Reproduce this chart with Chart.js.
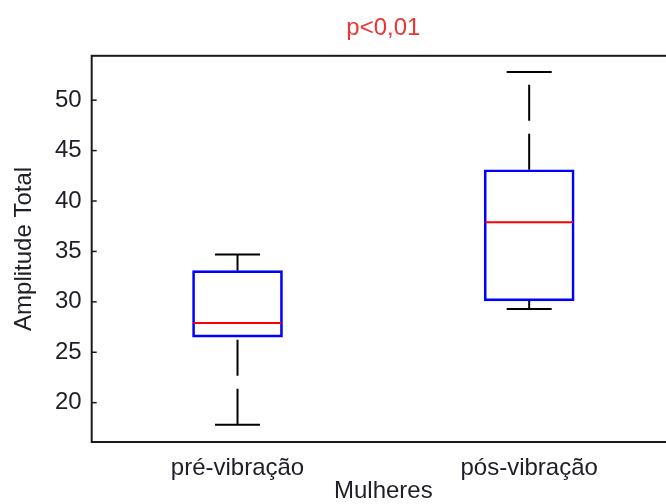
<!DOCTYPE html>
<html>
<head>
<meta charset="utf-8">
<script src="https://cdn.jsdelivr.net/npm/chart.js@4.4.1/dist/chart.umd.min.js"></script>
<style>
  html, body { margin: 0; padding: 0; background: #fff; overflow: hidden; }
  #wrap { width: 680px; height: 504px; }
</style>
</head>
<body>
<div id="wrap"><canvas id="chart_id" width="680" height="504"></canvas></div>
<script>
// data
const categories = ['pré-vibração', 'pós-vibração'];
const whiskerLow = [17.8, 29.3];
const q1 = [26.5, 30.1];
const median = [27.9, 37.9];
const q3 = [33.1, 43.1];
const whiskerHigh = [34.7, 52.8];
const yTicks = [20, 25, 30, 35, 40, 45, 50];

const textColor = '#1e1e28';
const fontFamily = '"Liberation Sans", Arial, sans-serif';

// whiskers, caps, medians and the frame, drawn through the chart scales
const boxExtras = {
    id: 'boxExtras',
    afterDatasetsDraw(chart) {
        const ctx = chart.ctx;
        const area = chart.chartArea;
        const x = chart.scales.x;
        const y = chart.scales.y;
        const meta = chart.getDatasetMeta(0);
        ctx.save();
        categories.forEach(function (c, i) {
            const cx = x.getPixelForValue(i);
            const half = meta.data[i].width / 2;
            const capHalf = half / 2;

            ctx.strokeStyle = '#000';
            ctx.lineWidth = 2;
            ctx.setLineDash([36, 13]);
            ctx.beginPath();
            ctx.moveTo(cx, y.getPixelForValue(whiskerLow[i]));
            ctx.lineTo(cx, y.getPixelForValue(q1[i]));
            ctx.stroke();
            ctx.beginPath();
            ctx.moveTo(cx, y.getPixelForValue(q3[i]));
            ctx.lineTo(cx, y.getPixelForValue(whiskerHigh[i]));
            ctx.stroke();
            ctx.setLineDash([]);

            [whiskerLow[i], whiskerHigh[i]].forEach(function (v) {
                const py = y.getPixelForValue(v);
                ctx.beginPath();
                ctx.moveTo(cx - capHalf, py);
                ctx.lineTo(cx + capHalf, py);
                ctx.stroke();
            });

            ctx.strokeStyle = '#ff0000';
            const my = y.getPixelForValue(median[i]);
            ctx.beginPath();
            ctx.moveTo(cx - half + 1, my);
            ctx.lineTo(cx + half - 1, my);
            ctx.stroke();
        });

        ctx.strokeStyle = '#1a1a1a';
        ctx.lineWidth = 2;
        ctx.strokeRect(area.left, area.top, area.right - area.left, area.bottom - area.top);

        // small inward ticks on the y axis
        ctx.lineWidth = 1.5;
        yTicks.forEach(function (v) {
            const py = y.getPixelForValue(v);
            ctx.beginPath();
            ctx.moveTo(area.left, py);
            ctx.lineTo(area.left + 5, py);
            ctx.stroke();
        });
        ctx.restore();
    }
};

new Chart(document.getElementById('chart_id'), {
    type: 'bar',
    data: {
        labels: categories,
        datasets: [
            {
                label: 'Amplitude Total',
                data: categories.map((c, i) => [q1[i], q3[i]]),
                backgroundColor: 'rgba(0,0,0,0)',
                borderColor: '#0000ff',
                borderWidth: 2,
                borderSkipped: false,
                barThickness: 90
            }
        ]
    },
    options: {
        responsive: false,
        animation: false,
        layout: { padding: { left: 0, right: 5, top: 0, bottom: 0 } },
        plugins: {
            legend: { display: false },
            tooltip: { enabled: false },
            title: { display: false }
        },
        scales: {
            x: {
                position: 'bottom',
                offset: true,
                grid: { display: false, drawTicks: false },
                border: { display: false },
                ticks: {
                    color: textColor,
                    padding: 14,
                    maxRotation: 0,
                    font: { family: fontFamily, size: 24, lineHeight: 1 }
                },
                title: {
                    display: true,
                    text: 'Mulheres',
                    color: textColor,
                    font: { family: fontFamily, size: 24, lineHeight: 1 },
                    padding: { top: -15, bottom: 1 }
                }
            },
            xTop: {
                type: 'category',
                position: 'top',
                grid: { display: false, drawTicks: false },
                border: { display: false },
                ticks: { display: false },
                title: {
                    display: true,
                    text: 'p<0,01',
                    color: '#ee3333',
                    font: { family: fontFamily, size: 24, lineHeight: 1.2 },
                    padding: { top: 14, bottom: 13 }
                }
            },
            y: {
                min: 16.1,
                max: 54.4,
                afterBuildTicks: function (scale) {
                    scale.ticks = yTicks.map(v => ({ value: v }));
                },
                grid: { display: false, drawTicks: false },
                border: { display: false },
                ticks: {
                    color: textColor,
                    padding: 10,
                    font: { family: fontFamily, size: 24, lineHeight: 1 }
                },
                title: {
                    display: true,
                    text: 'Amplitude Total',
                    color: textColor,
                    font: { family: fontFamily, size: 24, lineHeight: 1 },
                    padding: { top: 12, bottom: 9 }
                }
            }
        }
    },
    plugins: [boxExtras]
});
</script>
</body>
</html>
